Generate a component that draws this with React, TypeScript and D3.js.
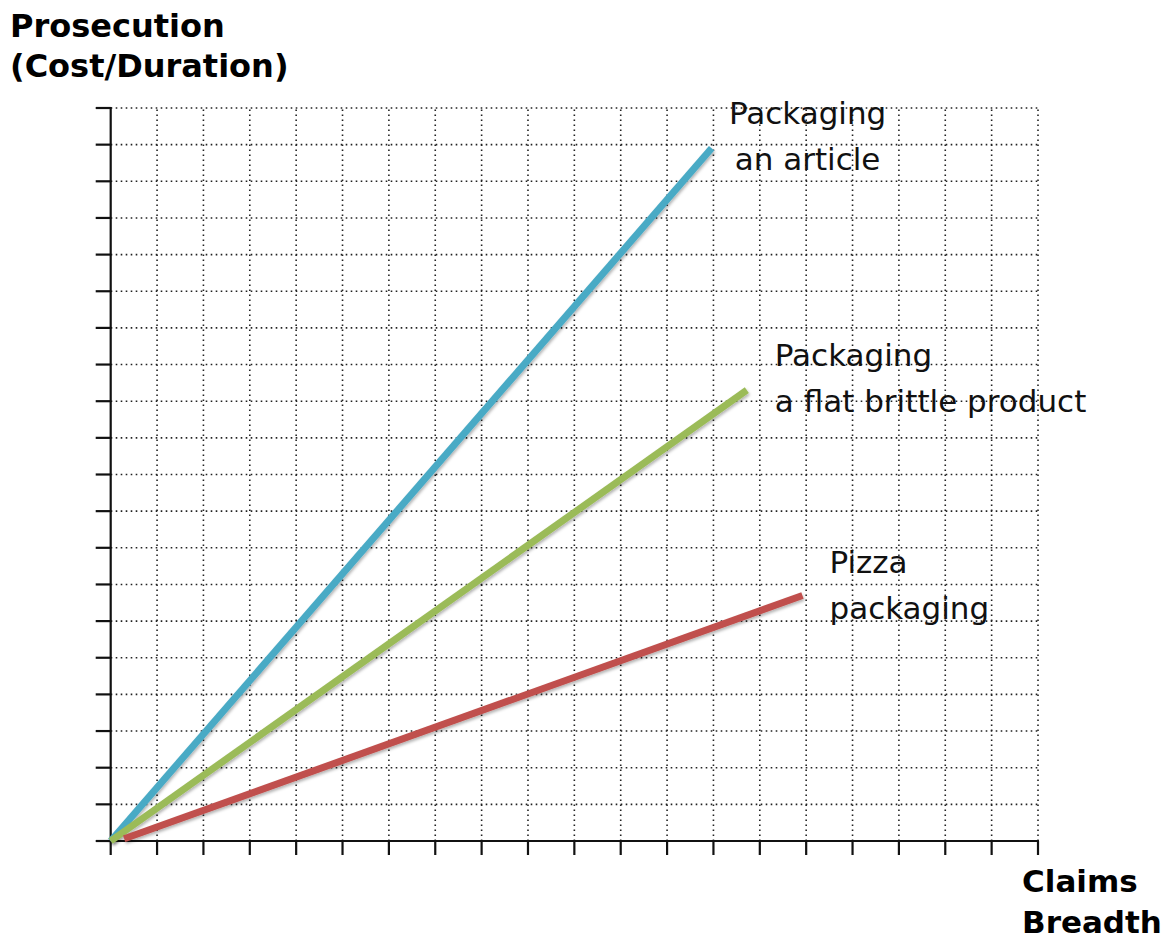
import React from "react";
import * as d3 from "d3";

// ---- data (grid units: 20 x 20 grid) ----
const seriesNames = ["Packaging an article", "Packaging a flat brittle product", "Pizza packaging"];
const startX = [0, 0, 0.29];
const startY = [0, 0, 0.06];
const endX = [12.96, 13.72, 14.92];
const endY = [18.9, 12.3, 6.7];
const seriesLabels = [["Packaging", "an article"], ["Packaging", "a flat brittle product"], ["Pizza", "packaging"]];
const xTicks = d3.range(0, 21);
const yTicks = d3.range(0, 21);
const yTitle = ["Prosecution", "(Cost/Duration)"];
const xTitle = ["Claims", "Breadth"];

const W = 1168;
const H = 940;
const colors = ["#4aaac5", "#9bbb59", "#c0504d"];

export default function App() {
  const x = d3.scaleLinear().domain([0, 20]).range([110.7, 1038]);
  const y = d3.scaleLinear().domain([0, 20]).range([841, 108]);
  const line = d3.line<[number, number]>().x((d) => x(d[0])).y((d) => y(d[1]));

  // label placement relative to line end (pixels)
  const labelCfg = [
    { dx: 96, dy: -24, anchor: "middle" },
    { dx: 28, dy: -24, anchor: "start" },
    { dx: 27, dy: -22, anchor: "start" },
  ];

  const font = "DejaVu Sans, Verdana, sans-serif";

  return (
    <svg
      width={W}
      height={H}
      style={{ position: "absolute", left: 0, top: 0, background: "#fff" }}
    >
      <defs>
        <filter id="sh" x="-10%" y="-10%" width="120%" height="120%">
          <feDropShadow dx="1" dy="2" stdDeviation="1.5" floodColor="#000" floodOpacity="0.3" />
        </filter>
      </defs>
      {/* grid */}
      <g stroke="#222" strokeWidth={1.6} strokeDasharray="1.6,3.4">
        {xTicks.slice(1).map((t) => (
          <line key={"gx" + t} x1={x(t)} x2={x(t)} y1={y(0)} y2={y(20)} />
        ))}
        {yTicks.slice(1).map((t) => (
          <line key={"gy" + t} x1={x(0)} x2={x(20)} y1={y(t)} y2={y(t)} />
        ))}
      </g>
      {/* axes */}
      <g stroke="#111" strokeWidth={2.2}>
        <line x1={x(0)} x2={x(0)} y1={y(0)} y2={y(20) - 1} />
        <line x1={x(0) - 1} x2={x(20) + 1} y1={y(0)} y2={y(0)} />
        {xTicks.map((t) => (
          <line key={"tx" + t} x1={x(t)} x2={x(t)} y1={y(0)} y2={y(0) + 14} />
        ))}
        {yTicks.map((t) => (
          <line key={"ty" + t} x1={x(0) - 15} x2={x(0)} y1={y(t)} y2={y(t)} />
        ))}
      </g>
      {/* series lines */}
      {seriesNames.map((n, i) => (
        <path
          key={n}
          d={line([[startX[i], startY[i]], [endX[i], endY[i]]]) || ""}
          stroke={colors[i]}
          strokeWidth={7}
          fill="none"
          filter="url(#sh)"
        />
      ))}
      {/* series labels */}
      {seriesNames.map((n, i) => {
        const ex = x(endX[i]) + labelCfg[i].dx;
        const ey = y(endY[i]) + labelCfg[i].dy;
        return (
          <text
            key={"l" + n}
            x={ex}
            y={ey}
            fontFamily={font}
            fontSize={31}
            fill="#111"
            textAnchor={labelCfg[i].anchor as any}
          >
            {seriesLabels[i].map((s, k) => (
              <tspan key={k} x={ex} y={ey + k * 46}>
                {s}
              </tspan>
            ))}
          </text>
        );
      })}
      {/* axis titles */}
      <text fontFamily={font} fontWeight="bold" fontSize={32} fill="#000">
        <tspan x={10} y={37}>{yTitle[0]}</tspan>
        <tspan x={10} y={77}>{yTitle[1]}</tspan>
      </text>
      <text fontFamily={font} fontWeight="bold" fontSize={31} fill="#000">
        <tspan x={1022} y={892}>{xTitle[0]}</tspan>
        <tspan x={1022} y={933}>{xTitle[1]}</tspan>
      </text>
    </svg>
  );
}
